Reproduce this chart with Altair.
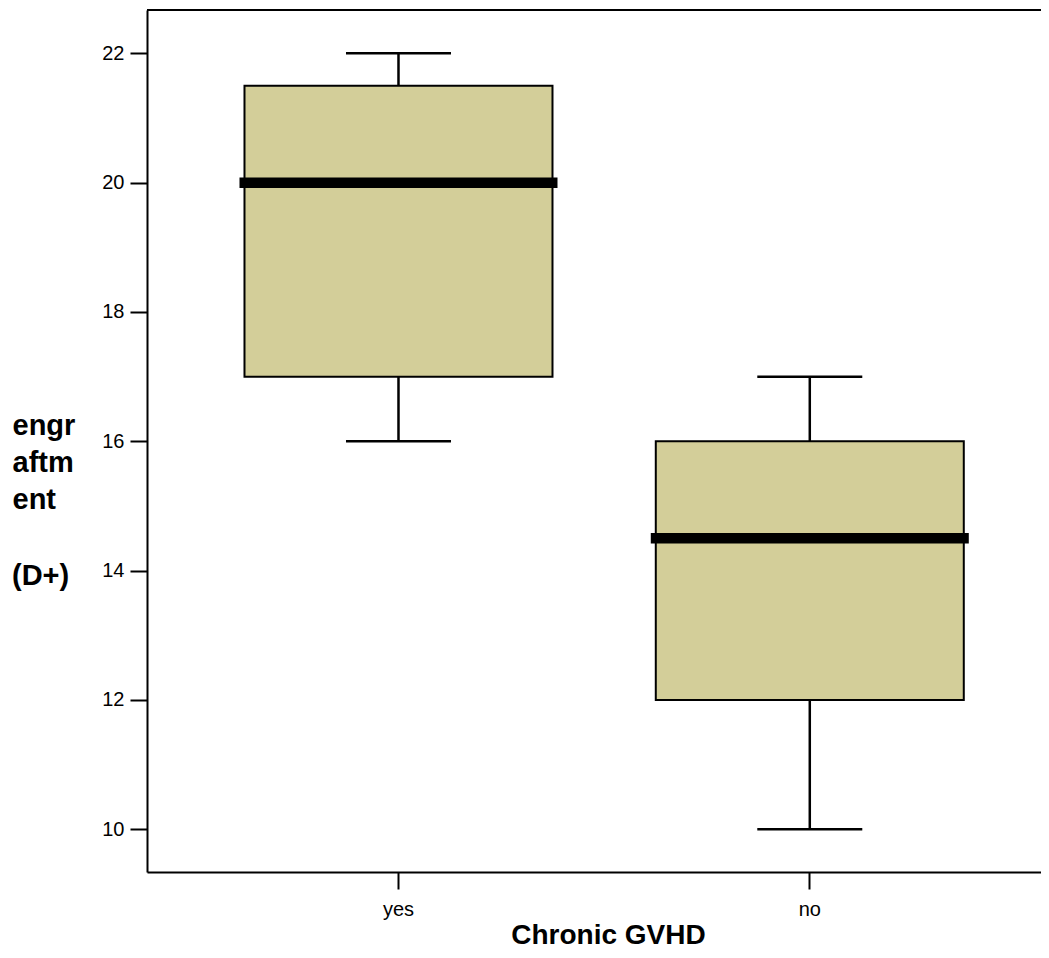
import altair as alt
import pandas as pd

groups = ["yes", "no"]
whisker_low = [16, 10]
q1 = [17, 12]
median = [20, 14.5]
q3 = [21.5, 16]
whisker_high = [22, 17]
y_ticks = [10, 12, 14, 16, 18, 20, 22]
y_title_lines = ["engr", "aftm", "ent"]
y_title_unit = ["(D+)"]

df = pd.DataFrame({
    "group": groups,
    "lo": whisker_low,
    "q1": q1,
    "med": median,
    "q3": q3,
    "hi": whisker_high,
})

FONT = "Liberation Sans, Arial, sans-serif"
W, H = 894, 862

xscale = alt.Scale(domain=groups, paddingInner=0, paddingOuter=0.0868, align=0.642)
yscale = alt.Scale(domain=[9.34, 22.67], nice=False, zero=False)

xaxis = alt.Axis(
    title="Chronic GVHD", labelAngle=0, labelFontSize=20, labelFont=FONT,
    labelColor="black", labelBaseline="alphabetic", labelPadding=26,
    tickSize=17, tickWidth=2, tickColor="black", domainWidth=2, domainColor="black",
    titleFont=FONT, titleFontSize=28, titleFontWeight="bold", titleColor="black",
    titleX=461, titleY=71, titleBaseline="alphabetic", titleAlign="center",
)
yaxis = alt.Axis(
    title=y_title_lines, values=y_ticks, format="d", grid=False,
    labelFontSize=20, labelFont=FONT, labelColor="black", labelPadding=6,
    tickSize=17, tickWidth=2, tickColor="black", domainWidth=2, domainColor="black",
    titleFont=FONT, titleFontSize=29, titleFontWeight="bold", titleColor="black",
    titleAngle=0, titleAlign="left", titleBaseline="alphabetic",
    titleX=-135, titleY=424, titleLineHeight=37,
)

base = alt.Chart(df)
x = alt.X("group:N", scale=xscale, axis=xaxis, sort=groups)

whisk = base.mark_rule(color="black", strokeWidth=2.5).encode(
    x=x, y=alt.Y("lo:Q", scale=yscale, axis=yaxis), y2="hi:Q"
)
box = base.mark_bar(size=308, fill="#D3CE99", stroke="black", strokeWidth=2).encode(
    x=x, y=alt.Y("q1:Q", scale=yscale), y2="q3:Q"
)
med = base.mark_tick(size=318, thickness=10.5, color="black", opacity=1, orient="horizontal").encode(
    x=x, y=alt.Y("med:Q", scale=yscale)
)
cap_lo = base.mark_tick(size=105, thickness=2.5, color="black", opacity=1, orient="horizontal").encode(
    x=x, y=alt.Y("lo:Q", scale=yscale)
)
cap_hi = base.mark_tick(size=105, thickness=2.5, color="black", opacity=1, orient="horizontal").encode(
    x=x, y=alt.Y("hi:Q", scale=yscale)
)
top = alt.Chart(df).mark_rule(color="black", strokeWidth=2).encode(
    x=alt.value(0), x2=alt.value(W), y=alt.value(0)
)
unit = alt.Chart(pd.DataFrame({"t": y_title_unit})).mark_text(
    font=FONT, fontSize=29, fontWeight="bold", color="black",
    align="left", baseline="alphabetic"
).encode(text="t:N", x=alt.value(-135), y=alt.value(575))

chart = alt.layer(whisk, box, med, cap_lo, cap_hi, top, unit).properties(
    width=W, height=H,
    autosize=alt.AutoSizeParams(type="none"),
    padding={"left": 139, "top": 2, "right": 0, "bottom": 78},
    background="white",
).configure_view(stroke="transparent")

chart.save("out.html", embed_options={"renderer": "svg", "actions": False})
